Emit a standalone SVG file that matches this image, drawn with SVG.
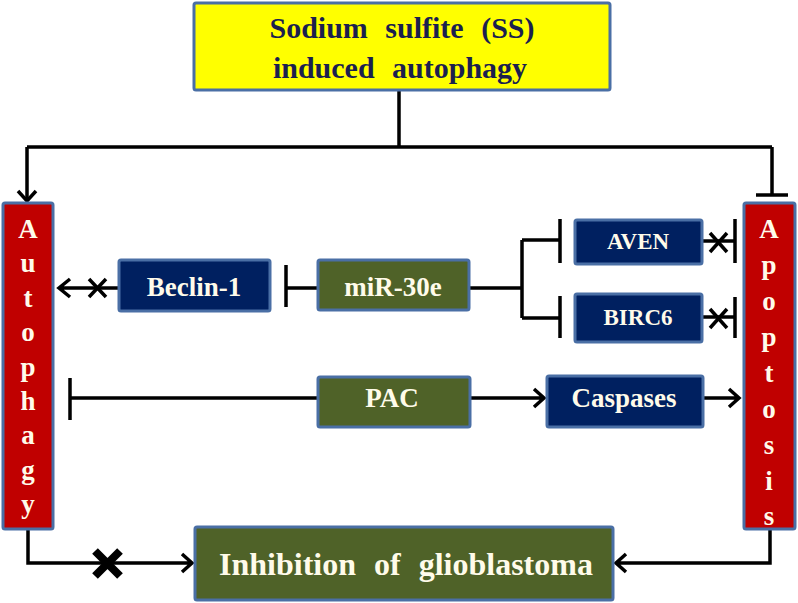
<svg xmlns="http://www.w3.org/2000/svg" width="798" height="603" viewBox="0 0 798 603">
<style>
.box{stroke:#4a6fa5;stroke-width:3}
.yel{fill:#ffff00}
.navy{fill:#002060}
.olive{fill:#4f6228}
.red{fill:#c00000}
.t{font-family:'Liberation Serif','Times New Roman','DejaVu Serif',serif;font-weight:700;text-anchor:middle}
.w{fill:#fffbea}
.ln{fill:none;stroke:#000;stroke-width:3.5}
.x{fill:none;stroke:#000;stroke-width:3.5}
</style>
<rect width="798" height="603" fill="#ffffff"/>
<g id="connectors">
  <path class="ln" d="M399,90 V147 M27,147 H772 M27,147 V201 M772,147 V195"/>
  <path class="ln" d="M18,191 L27,201 L36,191"/>
  <path class="ln" d="M756,195 H788"/>
  <path class="ln" d="M118,288 H59 M70,279 L59,288 L70,297"/>
  <path class="x" d="M89,279 L106,297 M106,279 L89,297"/>
  <path class="ln" d="M317,288 H286 M286,265 V307"/>
  <path class="ln" d="M469,288 H522 M522,240 V318 M522,240 H560 M522,318 H560 M560,219 V263 M560,296 V338"/>
  <path class="ln" d="M702,241 H735 M735,219 V263 M702,317 H735 M735,297 V338"/>
  <path class="x" d="M710,233 L727,252 M727,233 L710,252 M710,309 L727,328 M727,309 L710,328"/>
  <path class="ln" d="M317,398 H70 M70,378 V420"/>
  <path class="ln" d="M470,398 H544 M534,389 L544,398 L534,407"/>
  <path class="ln" d="M703,398 H739 M729,389 L739,398 L729,407"/>
  <path class="ln" d="M28,530 V563 H192 M182,554 L192,563 L182,572"/>
  <path class="ln" d="M770,530 V563 H616 M626,554 L616,563 L626,572"/>
  <path d="M95,551 L120,576 M120,551 L95,576" fill="none" stroke="#000" stroke-width="8"/>
</g>
<g id="ss">
  <rect class="box yel" x="194" y="3" width="416" height="87" rx="2"/>
  <text class="t" x="402" y="38" font-size="30" fill="#1b1f4f" word-spacing="10">Sodium sulfite (SS)</text>
  <text class="t" x="400" y="78" font-size="30" fill="#1b1f4f" word-spacing="10">induced autophagy</text>
</g>
<g id="autophagy">
  <rect class="box red" x="3" y="203" width="50" height="326" rx="2"/>
  <text class="t w" font-size="27" x="28" y="238">A</text>
  <text class="t w" font-size="27" x="28" y="272">u</text>
  <text class="t w" font-size="27" x="28" y="307">t</text>
  <text class="t w" font-size="27" x="28" y="341">o</text>
  <text class="t w" font-size="27" x="28" y="376">p</text>
  <text class="t w" font-size="27" x="28" y="410">h</text>
  <text class="t w" font-size="27" x="28" y="444">a</text>
  <text class="t w" font-size="27" x="28" y="479">g</text>
  <text class="t w" font-size="27" x="28" y="513">y</text>
</g>
<g id="apoptosis">
  <rect class="box red" x="744" y="203" width="51" height="326" rx="2"/>
  <text class="t w" font-size="27" x="769" y="238">A</text>
  <text class="t w" font-size="27" x="769" y="274">p</text>
  <text class="t w" font-size="27" x="769" y="310">o</text>
  <text class="t w" font-size="27" x="769" y="346">p</text>
  <text class="t w" font-size="27" x="769" y="382">t</text>
  <text class="t w" font-size="27" x="769" y="418">o</text>
  <text class="t w" font-size="27" x="769" y="454">s</text>
  <text class="t w" font-size="27" x="769" y="490">i</text>
  <text class="t w" font-size="27" x="769" y="525">s</text>
</g>
<g id="beclin">
  <rect class="box navy" x="119" y="260" width="151" height="51" rx="2"/>
  <text class="t w" x="194" y="296" font-size="27">Beclin-1</text>
</g>
<g id="mir30e">
  <rect class="box olive" x="318" y="260" width="151" height="50" rx="2"/>
  <text class="t w" x="393" y="296" font-size="27">miR-30e</text>
</g>
<g id="aven">
  <rect class="box navy" x="575" y="220" width="127" height="44" rx="2"/>
  <text class="t w" x="638" y="249" font-size="23">AVEN</text>
</g>
<g id="birc6">
  <rect class="box navy" x="575" y="294" width="127" height="48" rx="2"/>
  <text class="t w" x="638" y="325" font-size="23">BIRC6</text>
</g>
<g id="pac">
  <rect class="box olive" x="318" y="377" width="152" height="50" rx="2"/>
  <text class="t w" x="392" y="407" font-size="27">PAC</text>
</g>
<g id="caspases">
  <rect class="box navy" x="547" y="376" width="156" height="51" rx="2"/>
  <text class="t w" x="624" y="407" font-size="27">Caspases</text>
</g>
<g id="inhibition">
  <rect class="box olive" x="195" y="527" width="418" height="73" rx="2"/>
  <text class="t w" x="406" y="575" font-size="32" word-spacing="10">Inhibition of glioblastoma</text>
</g>
</svg>
